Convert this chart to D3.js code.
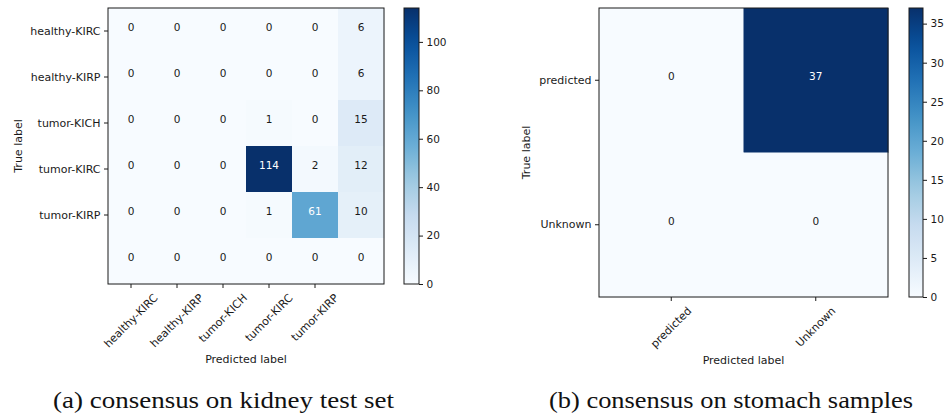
<!DOCTYPE html>
<html>
<head>
<meta charset="utf-8">
<script src="https://cdn.jsdelivr.net/npm/d3@7"></script>
<style>
html,body{margin:0;padding:0;background:#fff;}
svg{display:block;}
</style>
</head>
<body>
<svg id="chart" width="946" height="415"></svg>
<script>
// ---- data ----
const kidneyLabels = ["healthy-KIRC", "healthy-KIRP", "tumor-KICH", "tumor-KIRC", "tumor-KIRP"];
const kidneyValues = [
  [0, 0, 0, 0, 0, 6],
  [0, 0, 0, 0, 0, 6],
  [0, 0, 0, 1, 0, 15],
  [0, 0, 0, 114, 2, 12],
  [0, 0, 0, 1, 61, 10],
  [0, 0, 0, 0, 0, 0]
];
const kidneyCbarTicks = [0, 20, 40, 60, 80, 100];
const kidneyCaption = "(a) consensus on kidney test set";

const stomachLabels = ["predicted", "Unknown"];
const stomachValues = [
  [0, 37],
  [0, 0]
];
const stomachCbarTicks = [0, 5, 10, 15, 20, 25, 30, 35];
const stomachCaption = "(b) consensus on stomach samples";

const bluesStops = ["#f7fbff", "#deebf7", "#c6dbef", "#9ecae1", "#6baed6", "#4292c6", "#2171b5", "#08519c", "#08306b"];

// ---- drawing ----
const svg = d3.select("#chart");
const FONT = "DejaVu Sans, sans-serif";
const INK = "#1a1a1a";

function makeCmap(max) {
  return d3.scaleLinear()
    .domain(bluesStops.map((_, i) => max * i / (bluesStops.length - 1)))
    .range(bluesStops)
    .interpolate(d3.interpolateRgb)
    .clamp(true);
}

function drawMatrix(cfg) {
  const {id, values, labels, cbarTicks, caption, x0, y0, size, cbx, cbw, captionX, captionLen} = cfg;
  const n = values.length;
  const max = d3.max(values.flat());
  const cmap = makeCmap(max);
  const idx = d3.range(n);
  const xs = d3.scaleBand().domain(idx).range([x0, x0 + size]);
  const ys = d3.scaleBand().domain(idx).range([y0, y0 + size]);
  const g = svg.append("g");

  const cells = [];
  values.forEach((row, r) => row.forEach((v, c) => cells.push({r, c, v})));

  g.selectAll("rect.cell").data(cells).join("rect")
    .attr("class", "cell")
    .attr("x", d => xs(d.c))
    .attr("y", d => ys(d.r))
    .attr("width", xs.bandwidth() + 0.5)
    .attr("height", ys.bandwidth() + 0.5)
    .attr("fill", d => cmap(d.v));

  g.selectAll("text.val").data(cells).join("text")
    .attr("class", "val")
    .attr("x", d => xs(d.c) + xs.bandwidth() / 2)
    .attr("y", d => ys(d.r) + ys.bandwidth() / 2)
    .attr("text-anchor", "middle")
    .attr("font-family", FONT)
    .attr("font-size", 10.5)
    .attr("fill", d => d.v > max / 2 ? "#ffffff" : INK)
    .text(d => d.v);

  // frame
  g.append("rect")
    .attr("x", x0).attr("y", y0).attr("width", size).attr("height", size)
    .attr("fill", "none").attr("stroke", INK).attr("stroke-width", 1);

  const labelIdx = d3.range(labels.length);

  // y axis
  const yAxis = d3.axisLeft(ys).tickValues(labelIdx).tickFormat(i => labels[i]).tickSize(4).tickPadding(3.5);
  const ya = g.append("g").attr("transform", `translate(${x0},0)`).call(yAxis);
  ya.select(".domain").remove();
  ya.selectAll("line").attr("stroke", INK);
  ya.selectAll("text").attr("font-family", FONT).attr("font-size", 11).attr("fill", INK);

  // x axis
  const xAxis = d3.axisBottom(xs).tickValues(labelIdx).tickFormat(i => labels[i]).tickSize(4).tickPadding(3.5);
  const xa = g.append("g").attr("transform", `translate(0,${y0 + size})`).call(xAxis);
  xa.select(".domain").remove();
  xa.selectAll("line").attr("stroke", INK);
  xa.selectAll("text").attr("font-family", FONT).attr("font-size", 11).attr("fill", INK)
    .each(function() {
      const t = d3.select(this);
      const w = this.getComputedTextLength();
      const H = 11 * 1.16;
      const half = (w + H) * Math.SQRT1_2 / 2;
      const top = 4 + 3.5;
      t.attr("y", null).attr("dy", "0.32em").attr("text-anchor", "middle")
       .attr("transform", `translate(0,${top + half}) rotate(-45)`);
    });

  // axis titles
  g.append("text")
    .attr("transform", `translate(${cfg.ylabX},${y0 + size / 2}) rotate(-90)`)
    .attr("text-anchor", "middle").attr("dy", "0.32em")
    .attr("font-family", FONT).attr("font-size", 11).attr("fill", INK)
    .text("True label");
  g.append("text")
    .attr("x", x0 + size / 2).attr("y", cfg.xlabY)
    .attr("text-anchor", "middle")
    .attr("font-family", FONT).attr("font-size", 11).attr("fill", INK)
    .text("Predicted label");

  // colorbar
  const cs = d3.scaleLinear().domain([0, max]).range([y0 + size, y0]);
  const grad = svg.append("defs").append("linearGradient")
    .attr("id", "grad" + id).attr("x1", 0).attr("y1", 1).attr("x2", 0).attr("y2", 0);
  d3.range(0, 1.0001, 0.05).forEach(t => {
    grad.append("stop").attr("offset", t).attr("stop-color", cmap(t * max));
  });
  g.append("rect").attr("x", cbx).attr("y", y0).attr("width", cbw).attr("height", size)
    .attr("fill", `url(#grad${id})`);
  g.append("rect").attr("x", cbx).attr("y", y0).attr("width", cbw).attr("height", size)
    .attr("fill", "none").attr("stroke", INK).attr("stroke-width", 1);
  const ca = g.append("g").attr("transform", `translate(${cbx + cbw},0)`)
    .call(d3.axisRight(cs).tickValues(cbarTicks).tickSize(4).tickPadding(3.5));
  ca.select(".domain").remove();
  ca.selectAll("line").attr("stroke", INK);
  ca.selectAll("text").attr("font-family", FONT).attr("font-size", 10.5).attr("fill", INK);

  // caption
  svg.append("text")
    .attr("x", captionX).attr("y", 408)
    .attr("text-anchor", "middle")
    .attr("font-family", "Liberation Serif, serif")
    .attr("font-size", 23)
    .attr("fill", "#111")
    .attr("textLength", captionLen)
    .attr("lengthAdjust", "spacingAndGlyphs")
    .text(caption);
}

drawMatrix({
  id: "a", values: kidneyValues, labels: kidneyLabels, cbarTicks: kidneyCbarTicks,
  caption: kidneyCaption, x0: 108, y0: 8, size: 276, cbx: 404, cbw: 15,
  ylabX: 18, xlabY: 363, captionX: 223.5, captionLen: 341
});
drawMatrix({
  id: "b", values: stomachValues, labels: stomachLabels, cbarTicks: stomachCbarTicks,
  caption: stomachCaption, x0: 599, y0: 8, size: 289, cbx: 909, cbw: 14,
  ylabX: 526, xlabY: 364, captionX: 731, captionLen: 364
});
</script>
</body>
</html>
